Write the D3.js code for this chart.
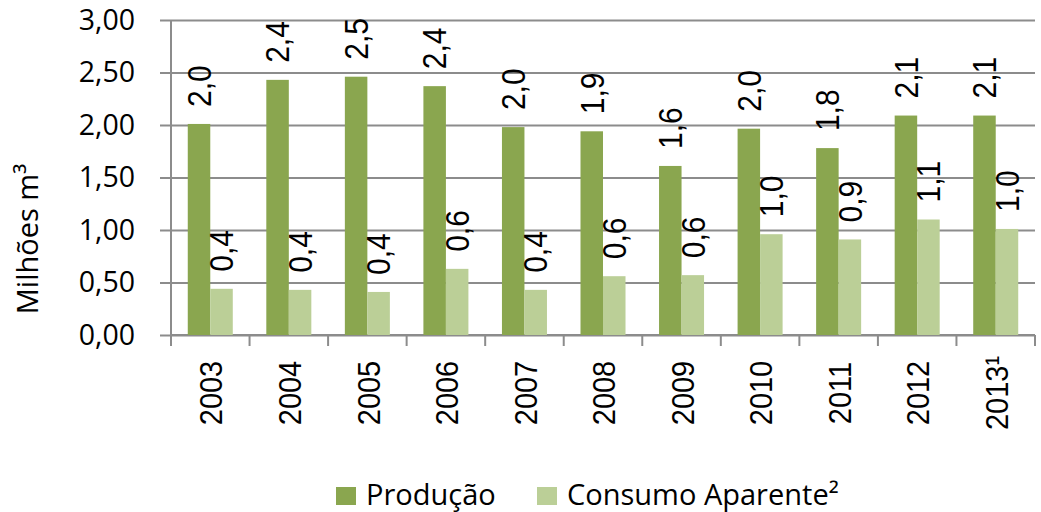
<!DOCTYPE html>
<html>
<head>
<meta charset="utf-8">
<script src="https://cdn.jsdelivr.net/npm/d3@7"></script>
<style>
  body { margin: 0; background: #ffffff; }
  svg { display: block; }
</style>
</head>
<body>
<div id="chart"></div>
<script>
// Data
const years     = ['2003', '2004', '2005', '2006', '2007', '2008', '2009', '2010', '2011', '2012', '2013¹'];
const producao  = [2.01, 2.43, 2.46, 2.37, 1.98, 1.94, 1.61, 1.965, 1.78, 2.09, 2.09];
const consumo   = [0.44, 0.43, 0.41, 0.63, 0.43, 0.56, 0.57, 0.96, 0.91, 1.10, 1.01];
const seriesNames = ['Produção', 'Consumo Aparente²'];
const yTicks    = [0, 0.5, 1, 1.5, 2, 2.5, 3];
const colors    = ['#8aa64f', '#bbcf97'];

const widthContainer  = 1041;
const heightContainer = 512;
const margin = {top: 20, left: 171, right: 6, bottom: 177};
const gridColor = '#8c8c8c';
const axisFont  = '"Open Sans", sans-serif';
const labelFont = '"Liberation Sans", Arial, sans-serif';

const data = years.map((y, i) => ({year: y, values: [producao[i], consumo[i]]}));

const svg = d3.select('#chart')
  .append('svg')
  .attr('width', widthContainer)
  .attr('height', heightContainer);

let xScale = d3.scaleBand()
  .domain(years)
  .range([margin.left, widthContainer - margin.right]);

let xInner = d3.scaleBand()
  .domain([0, 1])
  .range([0, xScale.bandwidth()])
  .paddingOuter(0.745);

let yScale = d3.scaleLinear()
  .domain([0, 3])
  .range([heightContainer - margin.bottom, margin.top]);

const fmt = v => d3.format('.1f')(v).replace('.', ',');
const fmt2 = v => d3.format('.2f')(v).replace('.', ',');

// gridlines + y-axis
svg.append('g')
  .attr('class', 'y-axis')
  .attr('transform', `translate(${margin.left}, 0)`)
  .call(d3.axisLeft(yScale).tickValues(yTicks).tickFormat(fmt2)
    .tickSize(-(widthContainer - margin.right - margin.left)).tickPadding(36))
  .call(g => g.select('.domain').remove())
  .call(g => g.selectAll('.tick line').attr('stroke', gridColor).attr('stroke-width', 2).attr('x1', -11))
  .call(g => g.selectAll('.tick text')
    .style('font-family', axisFont).style('font-size', '28.5px').attr('fill', '#000'));

svg.append('line')
  .attr('x1', margin.left).attr('x2', margin.left)
  .attr('y1', yScale(3)).attr('y2', yScale(0))
  .attr('stroke', gridColor).attr('stroke-width', 2);

// x-axis
const xAxis = svg.append('g')
  .attr('class', 'x-axis')
  .attr('transform', `translate(0, ${yScale(0)})`);

xAxis.append('line')
  .attr('x1', margin.left).attr('x2', widthContainer - margin.right)
  .attr('stroke', gridColor).attr('stroke-width', 2);

const boundaries = years.map(y => xScale(y)).concat([widthContainer - margin.right]);
xAxis.selectAll('.xtick')
  .data(boundaries)
  .enter().append('line')
  .attr('x1', d => d).attr('x2', d => d)
  .attr('y1', 0).attr('y2', 11)
  .attr('stroke', gridColor).attr('stroke-width', 2);

// rotated labels are a bit thicker across in the reference
xAxis.selectAll('.year')
  .data(years)
  .enter().append('text')
  .attr('transform', d => `translate(${xScale(d) + xScale.bandwidth() / 2 + 1}, 58) rotate(-90) scale(1, 1.1)`)
  .attr('text-anchor', 'middle')
  .attr('dy', '0.35em')
  .style('font-family', labelFont)
  .style('font-size', '29px')
  .text(d => d);

// bars
const groups = svg.selectAll('.group')
  .data(data)
  .enter().append('g')
  .attr('transform', d => `translate(${xScale(d.year)}, 0)`);

groups.selectAll('rect')
  .data(d => d.values.map((v, i) => ({v, i})))
  .enter().append('rect')
  .attr('x', d => xInner(d.i))
  .attr('width', xInner.bandwidth())
  .attr('y', d => yScale(d.v))
  .attr('height', d => yScale(0) - yScale(d.v))
  .attr('fill', d => colors[d.i]);

// data labels
groups.selectAll('.data-text')
  .data(d => d.values.map((v, i) => ({v, i})))
  .enter().append('text')
  .attr('class', 'data-text')
  .attr('transform', d => `translate(${xInner(d.i) + xInner.bandwidth() / 2}, ${yScale(d.v) - 17}) rotate(-90) scale(1, 1.12)`)
  .attr('text-anchor', 'start')
  .attr('dy', '0.35em')
  .style('font-family', labelFont)
  .style('font-size', '30px')
  .text(d => fmt(d.v));

// y-axis title
svg.append('text')
  .attr('transform', 'translate(28, 239) rotate(-90)')
  .attr('text-anchor', 'middle')
  .attr('dy', '0.35em')
  .style('font-family', axisFont)
  .style('font-size', '29px')
  .text('Milhões m³');

// legend
const legendX = [336, 537];
const legend = svg.selectAll('.legend')
  .data(seriesNames)
  .enter().append('g')
  .attr('transform', (d, i) => `translate(${legendX[i]}, 487)`);

legend.append('rect')
  .attr('width', 20).attr('height', 18)
  .attr('fill', (d, i) => colors[i]);

legend.append('text')
  .attr('x', 30).attr('y', 18)
  .style('font-family', axisFont)
  .style('font-size', '29px')
  .text(d => d);
</script>
</body>
</html>
